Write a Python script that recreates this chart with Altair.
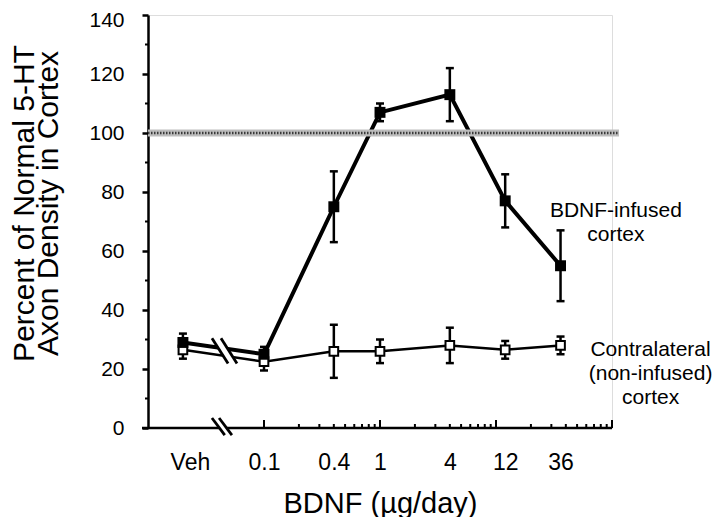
import altair as alt
import pandas as pd

# ---- data ----
doses = [0.02, 0.1, 0.4, 1, 4, 12, 36]          # 0.02 = position of "Veh"
infused_mean = [29, 25, 75, 107, 113, 77, 55]
infused_err = [3, 2.5, 12, 3, 9, 9, 12]
contra_mean = [26.5, 22.5, 26, 26, 28, 26.5, 28]
contra_err = [3, 3, 9, 4, 6, 3, 3]
reference_level = 100

x_label_values = [0.02, 0.1, 0.4, 1, 4, 12, 36]
x_major_ticks = [0.1, 1, 10, 100]
x_minor_ticks = [0.2, 0.3, 0.4, 0.5, 0.6, 0.7, 0.8, 0.9,
                 2, 3, 4, 5, 6, 7, 8, 9,
                 20, 30, 40, 50, 60, 70, 80, 90]
y_major_ticks = [0, 20, 40, 60, 80, 100, 120, 140]
y_minor_ticks = [10, 30, 50, 70, 90, 110, 130]

# axis-break symbols (data units): white gap + two black slashes
break_gap = {"x": [0.0390, 0.0382], "x2": [0.0535, 0.0493],
             "y": [30.4, 3.4], "y2": [21.9, -2.4]}
break_slash = {"x": [0.0356, 0.0426, 0.0356, 0.0410],
               "x2": [0.0490, 0.0585, 0.0459, 0.0529],
               "y": [30.4, 30.4, 3.4, 3.4],
               "y2": [21.9, 21.9, -2.4, -2.4]}

annotations = {"x": [108, 215], "y": [73.7, 26.3],
               "text": [["BDNF-infused", "cortex"],
                        ["Contralateral", "(non-infused)", "cortex"]]}

FONT = "Liberation Sans"
W, H = 464, 413

rows = []
for s, means, errs in [("infused", infused_mean, infused_err),
                       ("contra", contra_mean, contra_err)]:
    for d, m, e in zip(doses, means, errs):
        rows.append(dict(series=s, dose=d, mean=m, lo=m - e, hi=m + e))
df = pd.DataFrame(rows)
inf = df[df.series == "infused"]
con = df[df.series == "contra"]

xs = alt.Scale(type="log", domain=[0.01, 100])
ys = alt.Scale(domain=[0, 140])

x_axis = alt.Axis(values=x_label_values, format="~g",
                  labelExpr="datum.value < 0.05 ? 'Veh' : datum.label",
                  labelOffset={"condition": {"test": "datum.value < 0.05", "value": 7},
                               "value": 0},
                  ticks=False, tickSize=0, domain=False, grid=False,
                  labelFont=FONT, labelFontSize=23, labelColor="black",
                  labelPadding=23, title="BDNF (µg/day)", titleFont=FONT,
                  titleFontSize=29, titleFontWeight="normal", titleColor="black",
                  titlePadding=15)
y_axis = alt.Axis(values=y_major_ticks, grid=False, domainColor="black",
                  domainWidth=2.5, tickColor="black", tickWidth=2.5, tickSize=6,
                  labelFont=FONT, labelFontSize=21, labelColor="black",
                  labelPadding=18,
                  labelOffset={"condition": {"test": "datum.value > 130", "value": 5},
                               "value": 0},
                  title=["Percent of Normal 5-HT", "Axon Density in Cortex"],
                  titleFont=FONT, titleFontSize=30, titleFontWeight="normal",
                  titleColor="black", titleLineHeight=24, titlePadding=25,
                  titleY=188)


def X(f):
    return alt.X(f, type="quantitative", scale=xs, axis=x_axis)


def Y(f):
    return alt.Y(f, type="quantitative", scale=ys, axis=y_axis)


line_inf = alt.Chart(inf).mark_line(color="black", strokeWidth=4).encode(
    x=X("dose"), y=Y("mean"))
line_con = alt.Chart(con).mark_line(color="black", strokeWidth=2.5).encode(
    x=X("dose"), y=Y("mean"))

ref = pd.DataFrame({"level": [reference_level]})
band = alt.Chart(ref).mark_rule(color="#bdbdbd", strokeWidth=7).encode(
    x=alt.value(0), x2=alt.value(W + 7), y=Y("level"))
band_dots = alt.Chart(ref).mark_rule(color="#3a3a3a", strokeWidth=2.5,
                                     strokeDash=[1.5, 1.5]).encode(
    x=alt.value(0), x2=alt.value(W + 7), y=Y("level"))

baseline = alt.Chart(ref).mark_rule(color="black", strokeWidth=2.5).encode(
    x=alt.value(-6), x2=alt.value(W), y=alt.value(H))

xmaj = alt.Chart(pd.DataFrame({"t": x_major_ticks})).mark_rule(
    color="black", strokeWidth=2).encode(x=X("t"), y=alt.value(H), y2=alt.value(H - 8))
xmin = alt.Chart(pd.DataFrame({"t": x_minor_ticks})).mark_rule(
    color="black", strokeWidth=2).encode(x=X("t"), y=alt.value(H), y2=alt.value(H - 4))
ymin = alt.Chart(pd.DataFrame({"t": y_minor_ticks})).mark_rule(
    color="black", strokeWidth=2).encode(y=Y("t"), x=alt.value(-3), x2=alt.value(0))

gap = alt.Chart(pd.DataFrame(break_gap)).mark_rule(
    color="white", strokeWidth=6).encode(x=X("x"), x2="x2:Q", y=Y("y"), y2="y2:Q")
slash = alt.Chart(pd.DataFrame(break_slash)).mark_rule(
    color="black", strokeWidth=2.8).encode(x=X("x"), x2="x2:Q", y=Y("y"), y2="y2:Q")


def errbars(d):
    r = alt.Chart(d).mark_rule(color="black", strokeWidth=2.5).encode(
        x=X("dose"), y=Y("lo"), y2="hi:Q")
    t1 = alt.Chart(d).mark_tick(color="black", thickness=2.5, size=8,
                                orient="horizontal", opacity=1).encode(
        x=X("dose"), y=Y("lo"))
    t2 = alt.Chart(d).mark_tick(color="black", thickness=2.5, size=8,
                                orient="horizontal", opacity=1).encode(
        x=X("dose"), y=Y("hi"))
    return r + t1 + t2


pts_inf = alt.Chart(inf).mark_square(color="black", size=120, opacity=1).encode(
    x=X("dose"), y=Y("mean"))
pts_con = alt.Chart(con).mark_square(fill="white", stroke="black", strokeWidth=2,
                                     size=75, opacity=1, filled=True).encode(
    x=X("dose"), y=Y("mean"))

ann = alt.Chart(pd.DataFrame(annotations)).mark_text(
    font=FONT, fontSize=21, color="black", align="center", baseline="middle",
    lineHeight=24).encode(x=X("x"), y=Y("y"), text="text")

chart = alt.layer(
    line_inf, band, band_dots, line_con, baseline, xmaj, xmin, ymin,
    gap, slash, errbars(con), errbars(inf), pts_con, pts_inf, ann,
).properties(
    width=W, height=H,
    autosize=alt.AutoSizeParams(type="none"),
    padding={"left": 140, "top": 7, "right": 100, "bottom": 89},
).configure_view(strokeWidth=0).configure(background="white")

chart.save("out.html", embed_options={"renderer": "svg", "actions": False})
